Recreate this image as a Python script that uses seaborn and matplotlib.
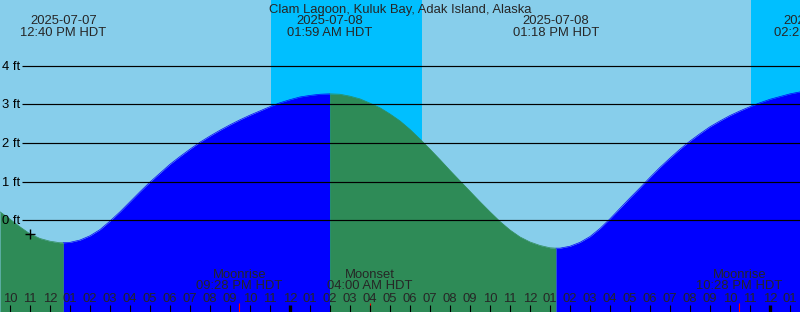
import numpy as np
import pandas as pd
import matplotlib
matplotlib.use("Agg")
import matplotlib.pyplot as plt
import matplotlib.transforms as mtransforms
import seaborn as sns

# ---------------- data ----------------
station = "Clam Lagoon, Kuluk Bay, Adak Island, Alaska"

# half-hourly samples: hours since 2025-07-07 00:00 HDT
sample_start = 9.5
sample_step = 0.5
heights = [
    0.22, 0.03, -0.17, -0.35, -0.47, -0.54, -0.58, -0.57, -0.51, -0.40,
    -0.24, -0.02, 0.22, 0.48, 0.74, 0.99, 1.22, 1.45, 1.65, 1.84,
    2.02, 2.18, 2.33, 2.47, 2.60, 2.72, 2.83, 2.94, 3.04, 3.12,
    3.19, 3.23, 3.26, 3.27, 3.26, 3.21, 3.14, 3.03, 2.91, 2.75,
    2.57, 2.35, 2.10, 1.84, 1.57, 1.29, 1.02, 0.75, 0.48, 0.22,
    -0.03, -0.25, -0.43, -0.56, -0.65, -0.71, -0.72, -0.67, -0.57, -0.42,
    -0.21, 0.04, 0.31, 0.58, 0.84, 1.11, 1.37, 1.61, 1.84, 2.05,
    2.24, 2.42, 2.57, 2.71, 2.83, 2.94, 3.04, 3.13, 3.20, 3.27,
    3.32,
]

extreme_hours = [12.667, 25.983, 37.3, 50.35]
extreme_heights = [-0.58, 3.27, -0.72, 3.37]
extreme_dates = ["2025-07-07", "2025-07-08", "2025-07-08", "2025-07-09"]
extreme_times = ["12:40 PM HDT", "01:59 AM HDT", "01:18 PM HDT", "02:21 AM HDT"]

moon_hours = [21.467, 28.0, 46.467]
moon_events = ["Moonrise", "Moonset", "Moonrise"]
moon_times = ["09:28 PM HDT", "04:00 AM HDT", "10:28 PM HDT"]

night_starts = [23.05, 47.05]
night_ends = [30.6, 52.0]

grid_levels = [0, 1, 2, 3, 4]
grid_labels = ["0 ft", "1 ft", "2 ft", "3 ft", "4 ft"]

now_hour = 11.0
now_height = -0.35

x_min, x_max = 9.5, 49.5
y_min, y_max = -2.371, 5.697

day_color = "#87CEEB"
night_color = "#00BFFF"
flood_color = "#0000FF"
ebb_color = "#2E8B57"

# ---------------- figure ----------------
sns.set_style("white")
plt.rcParams["font.family"] = ["Liberation Sans", "DejaVu Sans"]
FS = 9.4

W, H = 800, 312
fig = plt.figure(figsize=(W / 100, H / 100), dpi=100)
ax = fig.add_axes([0, 0, 1, 1])
ax.set_xlim(x_min, x_max)
ax.set_ylim(y_min, y_max)
ax.set_axis_off()

blend = mtransforms.blended_transform_factory(ax.transData, ax.transAxes)
px_per_ft = H / (y_max - y_min)


def yfrac(py):
    return 1 - py / H


# sky
ax.axvspan(x_min - 5, x_max + 5, color=day_color, zorder=0, lw=0)
for s, e in zip(night_starts, night_ends):
    ax.axvspan(s, e, color=night_color, zorder=0.5, lw=0)

# tide curve
samples = pd.DataFrame({
    "hour": sample_start + sample_step * np.arange(len(heights)),
    "height": heights,
})
ext = pd.DataFrame({"hour": extreme_hours, "height": extreme_heights})
ext = ext[(ext.hour > x_min) & (ext.hour < x_max)]
tide = pd.concat([samples, ext]).sort_values("hour").reset_index(drop=True)

bounds = [x_min] + [h for h in extreme_hours if x_min < h < x_max] + [x_max]
for i in range(len(bounds) - 1):
    seg = tide[(tide.hour >= bounds[i] - 1e-9) & (tide.hour <= bounds[i + 1] + 1e-9)]
    col = ebb_color if i % 2 == 0 else flood_color
    ax.fill_between(seg.hour, seg.height, y_min, color=col, lw=0, zorder=1)
    sns.lineplot(data=seg, x="hour", y="height", color=col, lw=0.5,
                 estimator=None, sort=False, ax=ax, zorder=1.1)

# grid lines and labels
for lev, lab in zip(grid_levels, grid_labels):
    ax.hlines(lev, x_min + 22 / 20, x_max, color="black", lw=0.85, zorder=2)
    ax.text(x_min + 2.5 / 20, lev - 4.1 / px_per_ft, lab, fontsize=FS,
            ha="left", va="baseline", color="black", zorder=3)

# now marker
ax.plot([now_hour], [now_height], marker="+", color="black", ms=7, mew=1.0,
        ls="none", zorder=3)

# title
ax.text(0.5, yfrac(13), station, transform=ax.transAxes, fontsize=FS,
        ha="center", va="baseline", zorder=3)

# extreme labels
for h, d, t in zip(extreme_hours, extreme_dates, extreme_times):
    ax.text(h, yfrac(24.3), d, transform=blend, fontsize=FS, ha="center",
            va="baseline", zorder=3)
    ax.text(h, yfrac(36), t, transform=blend, fontsize=FS, ha="center",
            va="baseline", zorder=3)

# moon labels
for h, ev, t in zip(moon_hours, moon_events, moon_times):
    ax.text(h, yfrac(277.5), ev, transform=blend, fontsize=FS, ha="center",
            va="baseline", zorder=3)
    ax.text(h, yfrac(289), t, transform=blend, fontsize=FS, ha="center",
            va="baseline", zorder=3)
    ax.vlines(h, 0, 9 / H, transform=blend, color="red", lw=0.8, zorder=3)

# hour ticks and labels
for hr in range(10, 50):
    lab = f"{(hr % 12) or 12:02d}"
    ax.text(hr, yfrac(301.7), lab, transform=blend, fontsize=FS, ha="center",
            va="baseline", zorder=3)
    lw = 2.4 if hr % 24 == 0 else 0.8
    ax.vlines(hr, 0, 7 / H, transform=blend, color="black", lw=lw, zorder=3)

fig.savefig("out.png", dpi=100)
